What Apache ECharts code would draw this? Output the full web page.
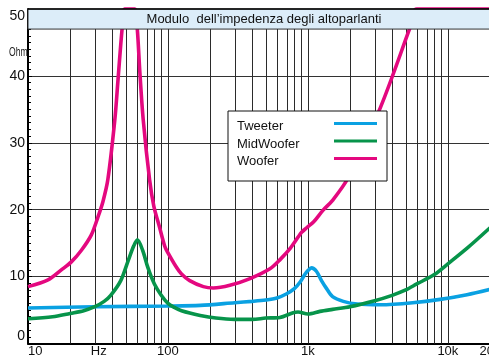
<!DOCTYPE html>
<html>
<head>
<meta charset="utf-8">
<script src="https://cdn.jsdelivr.net/npm/echarts@6/dist/echarts.min.js"></script>
<style>
  html, body { margin: 0; padding: 0; background: #fff; }
  #chart { width: 489px; height: 356px; }
</style>
</head>
<body>
<div id="chart"></div>
<script>
// Impedance magnitude (Ohm) of the three drivers versus frequency (Hz)
const titleText = 'Modulo  dell’impedenza degli altoparlanti';
const seriesNames = ['Tweeter', 'MidWoofer', 'Woofer'];

const tweeterFreq = [10, 30, 100, 170, 300, 400, 500, 600, 700, 800, 880, 950, 1000, 1060, 1150, 1250, 1360, 1500, 1790, 2250, 3300, 5600, 8800, 13700, 20000];
const tweeterOhm  = [5.3, 5.5, 5.6, 5.7, 6.1, 6.3, 6.5, 6.8, 7.4, 8.2, 9.2, 10.3, 10.9, 11.3, 10.8, 9.4, 8.2, 7.0, 6.3, 5.9, 5.8, 6.1, 6.6, 7.3, 8.1];

const midFreq = [10, 15, 20, 25, 30, 35, 39, 46, 52, 57, 60.5, 66, 72, 80, 89, 100, 111, 125, 170, 220, 300, 400, 500, 630, 785, 850, 1000, 1220, 1500, 2000, 3000, 4000, 5000, 6000, 8000, 10000, 14000, 20000];
const midOhm  = [3.7, 4.0, 4.5, 4.9, 5.5, 6.3, 7.2, 9.4, 12.4, 14.6, 15.5, 13.9, 11.3, 8.9, 7.3, 6.0, 5.4, 4.9, 4.2, 3.8, 3.6, 3.6, 3.8, 3.9, 4.6, 4.7, 4.4, 4.8, 5.1, 5.5, 6.4, 7.2, 8.0, 8.9, 10.3, 11.9, 14.4, 17.3];

// values above the scale are held at the top of the frame (50 Ohm)
const wooferFreq = [10, 13.9, 17.3, 20.4, 24, 28.3, 31.6, 34.3, 37.2, 41.7, 44, 47, 49, 58, 60.4, 63, 66.6, 74, 79.3, 87, 94.6, 98, 115, 125, 143, 179, 211, 277, 386, 539, 630, 752, 900, 980, 1100, 1280, 1500, 1930, 3300, 5300, 6000, 20000];
const wooferOhm  = [8.5, 9.5, 11.0, 12.2, 13.9, 16.2, 18.9, 21.2, 24.5, 33.4, 39.5, 47.0, 50, 50, 47.0, 40.5, 33.4, 24.4, 20.5, 17.4, 14.6, 13.9, 11.4, 10.4, 9.4, 8.5, 8.3, 8.7, 9.7, 11.2, 12.5, 14.3, 16.6, 17.3, 18.2, 19.9, 21.4, 24.7, 35.3, 46.9, 50, 50];

const seriesColors = ['#0aa1e2', '#07944a', '#e4087f'];

// axis labels and frequency grid
const xLabelFreqs = [10, 32, 100, 1000, 10000, 20000];
const xLabelTexts = ['10', 'Hz', '100', '1k', '10k', '20k'];
const gridDecades = [10, 100, 1000, 10000];
const gridSteps = [1, 2, 3, 4, 5, 6, 7, 8, 9];

const FONT = '"Liberation Sans", Arial, Helvetica, sans-serif';
const lg = Math.log10;
const xMin = lg(10), xMax = lg(20000);

const pairs = (fs, zs) => fs.map((f, i) => [lg(f), zs[i]]);

const gridLines = [];
gridDecades.forEach(d => gridSteps.forEach(s => {
  const f = d * s;
  if (f > 10 && f <= 20000) gridLines.push({ xAxis: lg(f) });
}));

const labelLookup = {};
xLabelFreqs.forEach((f, i) => { labelLookup[lg(f).toFixed(4)] = xLabelTexts[i]; });

const chart = echarts.init(document.getElementById('chart'), null, { renderer: 'canvas' });

const curve = (name, data, color, clip) => ({
  name, type: 'line', data, z: 3,
  symbol: 'none', smooth: 0.3, clip,
  lineStyle: { color, width: 3.6 },
  itemStyle: { color }
});

chart.setOption({
  animation: false,
  backgroundColor: '#fff',
  textStyle: { fontFamily: FONT },
  grid: { left: 28, top: 9, width: 462, height: 334.5, containLabel: false, outerBoundsMode: 'none' },
  xAxis: {
    type: 'value', min: xMin, max: xMax,
    axisLine: { show: true, onZero: false, lineStyle: { color: '#000', width: 2 } },
    axisTick: { show: false },
    splitLine: { show: false },
    axisLabel: {
      customValues: xLabelFreqs.map(lg),
      formatter: v => labelLookup[v.toFixed(4)] || '',
      color: '#111', fontSize: 13, fontFamily: FONT, margin: 1,
      alignMinLabel: 'left', alignMaxLabel: 'center', hideOverlap: false
    }
  },
  yAxis: {
    type: 'value', min: 0, max: 50, interval: 10,
    axisLine: { show: true, lineStyle: { color: '#000', width: 2 } },
    axisTick: { show: true, inside: true, length: 4, lineStyle: { color: '#000', width: 1 } },
    minorTick: { show: true, splitNumber: 10, length: 3, lineStyle: { color: '#000', width: 1 } },
    splitLine: { show: true, lineStyle: { color: '#333', width: 1 } },
    axisLabel: {
      color: '#111', fontSize: 14, fontFamily: FONT, margin: 3,
      verticalAlignMinLabel: 'bottom', verticalAlignMaxLabel: 'top'
    }
  },
  legend: {
    data: seriesNames,
    left: 228, top: 111, orient: 'vertical', align: 'right',
    backgroundColor: '#fff', borderColor: '#111', borderWidth: 1, borderRadius: 0,
    padding: [3, 10, 13, 9],
    itemWidth: 43, itemHeight: 3, itemGap: -1.5, icon: 'rect',
    formatter: '{n|{name}}',
    textStyle: {
      color: '#111', fontSize: 13, fontFamily: FONT,
      rich: { n: { width: 92, align: 'left', fontSize: 13, lineHeight: 15, padding: [6, 0, 0, 0], color: '#111', fontFamily: FONT } }
    },
    selectedMode: false
  },
  graphic: [{
    type: 'text', x: 9, y: 52, scaleX: 0.66,
    style: { text: 'Ohm', font: '13px ' + FONT, fill: '#222', textVerticalAlign: 'middle' }
  }],
  series: [
    {
      name: 'grid', type: 'line', data: [], z: 1, silent: true,
      markLine: {
        silent: true, symbol: 'none', animation: false, z: 1,
        label: { show: false },
        lineStyle: { color: '#2b2b2b', width: 1, type: 'solid' },
        data: gridLines
      }
    },
    curve(seriesNames[0], pairs(tweeterFreq, tweeterOhm), seriesColors[0], true),
    curve(seriesNames[1], pairs(midFreq, midOhm), seriesColors[1], true),
    curve(seriesNames[2], pairs(wooferFreq, wooferOhm), seriesColors[2], false),
    {
      name: 'title', type: 'line', data: [], z: 10, silent: true,
      markArea: {
        silent: true, z: 20,
        itemStyle: { color: '#dcedf9', opacity: 1, borderColor: '#333', borderWidth: 1 },
        label: {
          show: true, position: 'inside', offset: [5, 0],
          color: '#111', fontSize: 13, fontFamily: FONT
        },
        data: [[{ name: titleText, xAxis: xMin, yAxis: 47 }, { xAxis: xMax, yAxis: 50 }]]
      },
      // heavier frame line along the top of the plot
      markLine: {
        silent: true, symbol: 'none', animation: false, z: 21,
        label: { show: false },
        lineStyle: { color: '#000', width: 1.6, type: 'solid' },
        data: [{ yAxis: 50 }]
      }
    }
  ]
});
</script>
</body>
</html>
